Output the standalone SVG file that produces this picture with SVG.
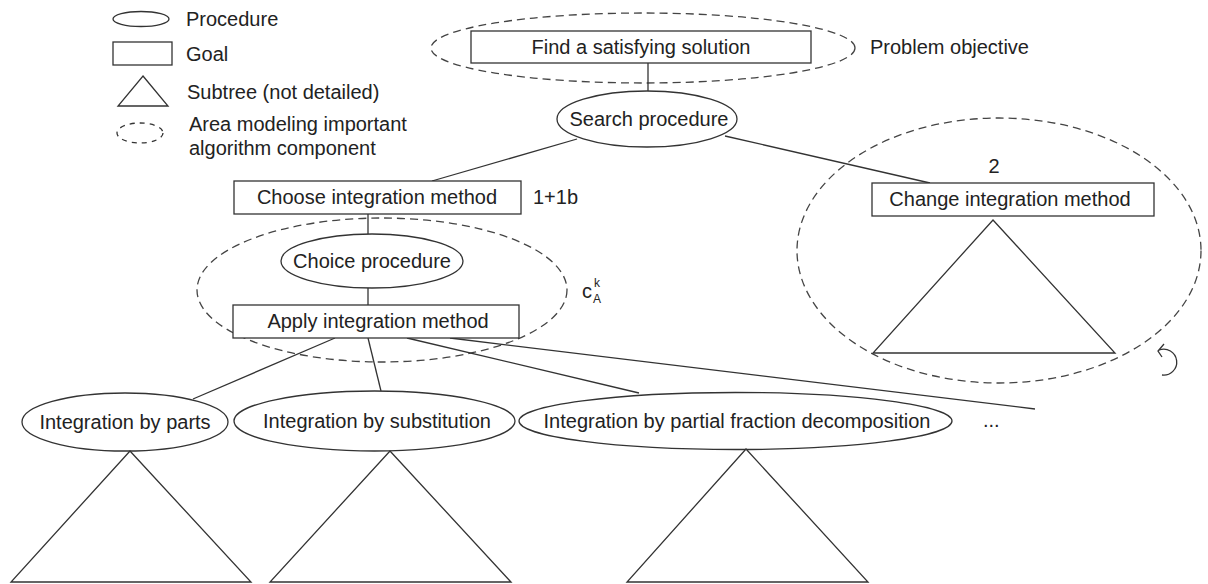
<svg xmlns="http://www.w3.org/2000/svg" width="1208" height="584" viewBox="0 0 1208 584">
<style>
.t{font-family:"Liberation Sans",Arial,Helvetica,sans-serif;font-size:20px;fill:#222}
.s{stroke:#333;stroke-width:1.3;fill:#fff}
.n{stroke:#333;stroke-width:1.3;fill:none}
.d{stroke:#444;stroke-width:1.3;fill:none;stroke-dasharray:8 5}
.c{stroke:#333;stroke-width:1.3;fill:none}
</style>
<rect width="1208" height="584" fill="#fff"/>
<g id="legend">
<ellipse class="s" cx="141" cy="19" rx="28" ry="7.5"/>
<text class="t" x="186" y="26">Procedure</text>
<rect class="s" x="113" y="42" width="59" height="23"/>
<text class="t" x="186" y="61">Goal</text>
<polygon class="s" points="143,76 168,106 118,106"/>
<text class="t" x="187" y="99">Subtree (not detailed)</text>
<ellipse class="n" cx="140" cy="133" rx="23" ry="10" style="stroke-dasharray:5 5"/>
<text class="t" x="189" y="131">Area modeling important</text>
<text class="t" x="189" y="155">algorithm component</text>
</g>
<g id="areas">
<ellipse class="d" cx="643" cy="48" rx="212" ry="35"/>
<ellipse class="d" cx="382" cy="290" rx="185" ry="72"/>
<ellipse class="d" cx="999" cy="250.5" rx="202" ry="132.5"/>
</g>
<g id="connectors">
<line class="c" x1="648" y1="63" x2="648" y2="91"/>
<line class="c" x1="577" y1="139" x2="432" y2="181"/>
<line class="c" x1="725" y1="136" x2="930" y2="183"/>
<line class="c" x1="368" y1="214" x2="368" y2="234"/>
<line class="c" x1="368" y1="288" x2="368" y2="305"/>
<line class="c" x1="335" y1="338" x2="193" y2="399"/>
<line class="c" x1="368" y1="338" x2="381" y2="391"/>
<line class="c" x1="407" y1="338" x2="639" y2="393"/>
<line class="c" x1="450" y1="338" x2="1035" y2="409"/>
</g>
<g id="n-find">
<rect class="s" x="471" y="31" width="340" height="32"/>
<text class="t" x="641" y="54" text-anchor="middle">Find a satisfying solution</text>
</g>
<text class="t" x="870" y="54">Problem objective</text>
<g id="n-search">
<ellipse class="s" cx="647" cy="119" rx="90" ry="28"/>
<text class="t" x="649" y="126" text-anchor="middle">Search procedure</text>
</g>
<g id="n-choose">
<rect class="s" x="234" y="181" width="287" height="33"/>
<text class="t" x="377" y="204" text-anchor="middle">Choose integration method</text>
</g>
<text class="t" x="533" y="204">1+1b</text>
<g id="n-choice">
<ellipse class="s" cx="372" cy="261" rx="91" ry="27"/>
<text class="t" x="372" y="268" text-anchor="middle">Choice procedure</text>
</g>
<g id="n-apply">
<rect class="s" x="233" y="305" width="286" height="33"/>
<text class="t" x="378" y="328" text-anchor="middle">Apply integration method</text>
</g>
<text class="t" x="582" y="298">c</text>
<text class="t" x="594" y="287" style="font-size:12px">k</text>
<text class="t" x="593" y="303" style="font-size:12px">A</text>
<g id="n-change">
<text class="t" x="994" y="173" text-anchor="middle">2</text>
<rect class="s" x="872" y="183" width="282" height="33"/>
<text class="t" x="1010" y="206" text-anchor="middle">Change integration method</text>
<polygon class="s" points="993,220 1115,353 873,353"/>
</g>
<g id="n-loop">
<path class="n" d="M1159,350 A13,13 0 1 1 1162,375"/>
<path class="n" d="M1164,344 L1158,351 L1162,357"/>
</g>
<g id="n-parts">
<ellipse class="s" cx="125" cy="422" rx="103" ry="29"/>
<text class="t" x="125" y="429" text-anchor="middle">Integration by parts</text>
<polygon class="s" points="130,451 251,582 11,582"/>
</g>
<g id="n-subst">
<ellipse class="s" cx="374.5" cy="421" rx="140.5" ry="30"/>
<text class="t" x="377" y="428" text-anchor="middle">Integration by substitution</text>
<polygon class="s" points="390,451 511,582 270,582"/>
</g>
<g id="n-partial">
<ellipse class="s" cx="735.5" cy="421" rx="216.5" ry="28.5"/>
<text class="t" x="737" y="428" text-anchor="middle">Integration by partial fraction decomposition</text>
<polygon class="s" points="746,449 868,582 627,582"/>
</g>
<text class="t" x="983" y="427">...</text>
</svg>
